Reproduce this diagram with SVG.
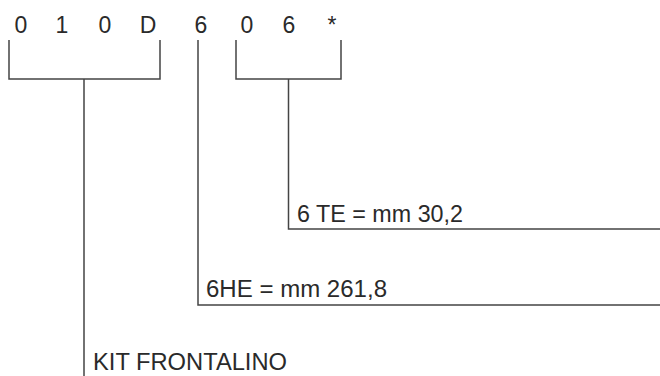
<svg xmlns="http://www.w3.org/2000/svg" width="660" height="376" viewBox="0 0 660 376">
<style>
text{font-family:"Liberation Sans",Arial,sans-serif;font-size:23px;fill:#2a2a2a}
.code{text-anchor:middle}
.ln{fill:none;stroke:#444;stroke-width:1.5}
</style>
<rect width="660" height="376" fill="#fff"/>
<g id="code">
<text class="code" x="21" y="33">0</text>
<text class="code" x="62" y="33">1</text>
<text class="code" x="105" y="33">0</text>
<text class="code" x="148" y="33">D</text>
<text class="code" x="201" y="33">6</text>
<text class="code" x="247" y="33">0</text>
<text class="code" x="289" y="33">6</text>
<text class="code" x="332" y="33">*</text>
</g>
<g id="connectors">
<path class="ln" d="M9,40 V79 H160 V40 M84,79 V376"/>
<path class="ln" d="M198,40 V305 H660"/>
<path class="ln" d="M236,40 V79 H341 V40 M288.5,79 V229 H660"/>
</g>
<g id="label-te"><text x="297" y="222" textLength="166" lengthAdjust="spacingAndGlyphs">6 TE = mm 30,2</text></g>
<g id="label-he"><text x="206" y="297" textLength="181" lengthAdjust="spacingAndGlyphs">6HE = mm 261,8</text></g>
<g id="label-kit"><text x="93" y="370" textLength="194" lengthAdjust="spacingAndGlyphs">KIT FRONTALINO</text></g>
</svg>
